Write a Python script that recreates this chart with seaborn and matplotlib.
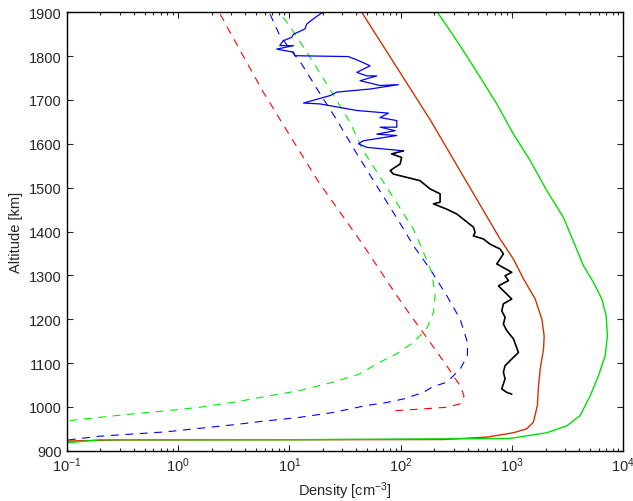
import numpy as np
import pandas as pd
import seaborn as sns
import matplotlib
import matplotlib.pyplot as plt

matplotlib.use('Agg')

# Measured profile (upper part, blue) - density [cm^-3] vs altitude [km]
meas_blue_n = [20.2, 18.9, 16.4, 14.3, 13.8, 10.9, 10.5, 8.8, 8.2, 10.9, 7.7, 10.9, 11.2,
               33.9, 41.7, 53.1, 40.4, 49.6, 61, 43.2, 65.3, 95.3, 53.1, 26.7, 23.2, 13.4,
               18.9, 40.4, 77.6, 65.3, 92.3, 92.3, 65.3, 89.1, 61, 92.3, 46.2, 41.7, 49.6, 106]
meas_blue_alt = [1900, 1896, 1885, 1873, 1862, 1850, 1843, 1835, 1824, 1824, 1816, 1809, 1801,
                 1799, 1790, 1778, 1763, 1755, 1755, 1744, 1733, 1735, 1725, 1718, 1710, 1693,
                 1691, 1676, 1670, 1660, 1653, 1638, 1638, 1630, 1622, 1619, 1607, 1600, 1592, 1584]

# Measured profile (lower part, black)
meas_black_n = [106, 82.8, 102, 98.9, 80.4, 86, 149, 184, 226, 226, 197, 259, 319, 450, 466, 450,
                553, 636, 781, 837, 730, 995, 867, 929, 755, 867, 995, 837, 809, 867, 837, 897,
                1031, 1143, 1031, 867, 837, 867, 809, 897, 995]
meas_black_alt = [1584, 1577, 1569, 1554, 1539, 1531, 1516, 1497, 1486, 1467, 1463, 1451, 1440,
                  1410, 1398, 1390, 1383, 1371, 1360, 1349, 1326, 1307, 1299, 1288, 1276, 1261,
                  1246, 1235, 1219, 1204, 1189, 1174, 1155, 1124, 1113, 1094, 1079, 1064, 1041,
                  1033, 1029]

# Model profiles, solid
model_brown_n = [44.7, 186, 781, 1031, 1268, 1616, 1854, 1945, 1920, 1791, 1730, 1706, 1690,
                 1556, 1356, 1031, 594, 242, 10, 0.3, 0.1]
model_brown_alt = [1900, 1653, 1383, 1337, 1292, 1246, 1200, 1162, 1132, 1086, 1048, 1022, 1003,
                   965, 950, 941, 931, 925.5, 925, 924.5, 922]

model_green_n = [214, 278, 366, 517, 730, 1031, 1456, 2057, 2899, 3800, 4384, 5395, 6415, 7010,
                 7200, 6871, 5980, 5034, 4093, 3113, 2057, 961, 10, 0.2, 0.1]
model_green_alt = [1900, 1858, 1812, 1752, 1691, 1622, 1562, 1493, 1432, 1360, 1322, 1284, 1246,
                   1208, 1162, 1117, 1071, 1025, 980, 957, 941, 928, 925, 925, 918]

# Model profiles, dashed
dash_red_n = [2.39, 2.94, 4.14, 5.83, 8.55, 12.5, 18.2, 45.5, 65.3, 92, 130, 184, 259, 342, 371,
              342, 259, 149, 86]
dash_red_alt = [1896, 1854, 1786, 1718, 1649, 1581, 1514, 1371, 1311, 1254, 1200, 1147, 1094,
                1048, 1025, 1007, 999, 995, 991]

dash_blue_n = [6.7, 8.2, 12.9, 18.9, 27.5, 38.9, 106, 130, 184, 259, 342, 398, 398, 342, 259,
               194, 160, 106, 75, 48.9, 24.5, 12.3, 6.2, 3.1, 1.55, 0.78, 0.39, 0.196, 0.1]
dash_blue_alt = [1896, 1847, 1782, 1714, 1649, 1584, 1406, 1368, 1314, 1254, 1200, 1147, 1117,
                 1086, 1056, 1046, 1033, 1018, 1010, 1003, 987, 976, 968, 959, 951, 943, 938,
                 933, 924]

dash_green_n = [8.8, 11.2, 16.4, 24, 35.1, 46.2, 130, 160, 190, 204, 197, 171, 130, 92, 65,
                42.6, 24.5, 12.3, 6.2, 3.1, 1.55, 0.78, 0.39, 0.196, 0.1]
dash_green_alt = [1889, 1851, 1786, 1718, 1649, 1584, 1406, 1353, 1307, 1254, 1216, 1178, 1147,
                  1121, 1102, 1075, 1056, 1037, 1024, 1010, 999, 991, 984, 976, 968]

sns.set_style('ticks')
plt.rcParams['font.family'] = ['Liberation Sans', 'DejaVu Sans']
plt.rcParams['mathtext.default'] = 'regular'

fig = plt.figure(figsize=(6.33, 5.02), dpi=100)
ax = fig.add_axes([0.1054, 0.1002, 0.8793, 0.8733])

dash = (0, (7, 6))
curves = [
    (dash_red_n, dash_red_alt, '#ff0000', dash, 0.8),
    (dash_blue_n, dash_blue_alt, '#0000ff', dash, 0.8),
    (dash_green_n, dash_green_alt, '#00ee00', dash, 0.8),
    (model_brown_n, model_brown_alt, '#cc3300', '-', 1.0),
    (model_green_n, model_green_alt, '#00e000', '-', 1.0),
    (meas_blue_n, meas_blue_alt, '#0000ff', '-', 0.9),
    (meas_black_n, meas_black_alt, '#000000', '-', 1.2),
]
for n, alt, col, ls, lw in curves:
    df = pd.DataFrame({'density': n, 'altitude': alt})
    sns.lineplot(data=df, x='density', y='altitude', sort=False, estimator=None,
                 color=col, linestyle=ls, linewidth=lw, ax=ax)

ax.set_xscale('log')
ax.set_xlim(0.1, 1e4)
ax.set_ylim(900, 1900)
ax.set_yticks(np.arange(900, 1901, 100))
ax.set_xlabel('Density [cm$^{-3}$]', fontsize=10.5)
ax.set_ylabel('Altitude [km]', fontsize=10.5, labelpad=4)
ax.tick_params(which='both', direction='in', top=True, right=True, labelsize=10.5, width=0.8)
ax.tick_params(which='major', length=4)
ax.tick_params(which='minor', length=2.5)
for s in ax.spines.values():
    s.set_linewidth(1.0)
    s.set_color('black')

plt.savefig('out.png', dpi=100)
